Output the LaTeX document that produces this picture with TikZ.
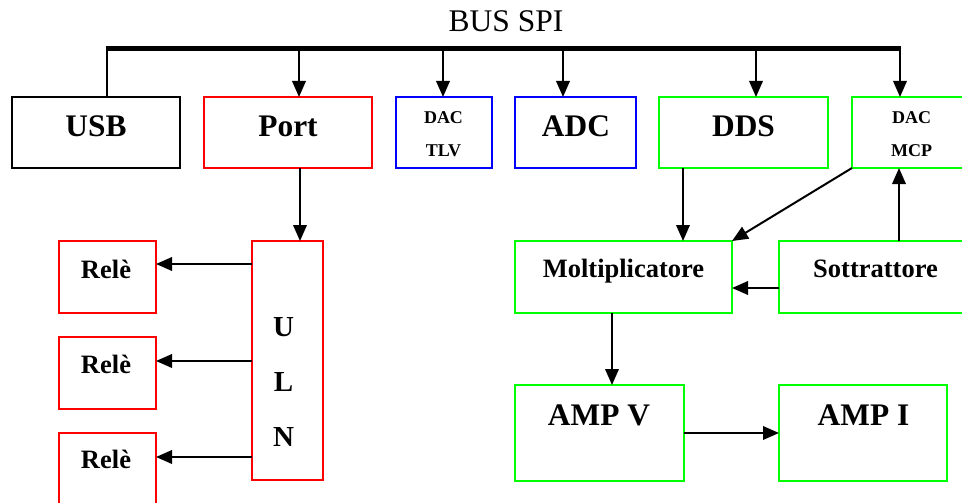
\documentclass[tikz,border=0pt]{standalone}
\usepackage{fontspec}
\setmainfont{Liberation Serif}
\usetikzlibrary{arrows.meta}
\definecolor{cred}{RGB}{255,0,0}
\definecolor{cblue}{RGB}{0,0,255}
\definecolor{cgreen}{RGB}{0,255,0}
\tikzset{
  box/.style={draw=#1, line width=2pt, rectangle, inner sep=0pt, outer sep=0pt},
  big/.style={font=\fontsize{31.4}{36}\selectfont\bfseries, anchor=base, inner sep=0pt},
  mid/.style={font=\fontsize{26.5}{30}\selectfont\bfseries, anchor=base, inner sep=0pt},
  uln/.style={font=\fontsize{29}{32}\selectfont\bfseries, anchor=base, inner sep=0pt},
  small/.style={font=\fontsize{18}{20}\selectfont\bfseries, anchor=base, inner sep=0pt},
  arr/.style={line width=2pt, -{Triangle[length=16pt,width=13.5pt]}},
  conn/.style={line width=2pt},
  bus/.style={line width=5pt}
}
\newcommand{\bx}[6]{% name, color, x1, y1, x2, y2
  \node[box=#2, minimum width={#5-#3}, minimum height={#6-#4}] (#1) at ({(#3+#5)/2},{(#4+#6)/2}) {};}
\begin{document}
\begin{tikzpicture}[x=1pt,y=-1pt]
\useasboundingbox (0,0) rectangle (962,503);
\clip (0,0) rectangle (962,503);
\fill[white] (0,0) rectangle (962,503);
% title
\node[font=\fontsize{31.5}{36}\selectfont, anchor=base, inner sep=0pt] (title) at (506,32) {BUS SPI};
% bus
\coordinate (busL) at (107,49);
\coordinate (busR) at (900,49);
\draw[bus] ([xshift=-1pt]busL) -- ([xshift=1pt]busR);
% top boxes
\bx{usb}{black}{12}{97}{180}{168}
\bx{port}{cred}{204}{97}{372}{168}
\bx{tlv}{cblue}{396}{97}{492}{168}
\bx{adc}{cblue}{515}{97}{636}{168}
\bx{dds}{cgreen}{659}{97}{828}{168}
\bx{mcp}{cgreen}{852}{97}{972}{168}
% lower boxes
\bx{rele1}{cred}{59}{241}{156}{313}
\bx{rele2}{cred}{59}{337}{156}{409}
\bx{rele3}{cred}{59}{433}{156}{506}
\bx{ulnbox}{cred}{252}{241}{323}{480}
\bx{molt}{cgreen}{515}{241}{732}{313}
\bx{sott}{cgreen}{779}{241}{974}{313}
\bx{ampv}{cgreen}{515}{385}{684}{481}
\bx{ampi}{cgreen}{779}{385}{947}{481}
% labels
\node[big] at (96,136) {USB};
\node[big] at (288,136) {Port};
\node[small] at (443.5,124) {DAC};
\node[small] at (443.5,156.5) {TLV};
\node[big] at (576,136.5) {ADC};
\node[big] at (743.5,136) {DDS};
\node[small] at (911.5,124) {DAC};
\node[small] at (911.5,156) {MCP};
\node[mid] at (106,278) {Relè};
\node[mid] at (106,373.5) {Relè};
\node[mid] at (106,468.5) {Relè};
\node[uln] at (283.5,336) {U};
\node[uln] at (283.5,391.5) {L};
\node[uln] at (283.5,446) {N};
\node[mid] at (623.5,277.5) {Moltiplicatore};
\node[mid] at (875.5,277.5) {Sottrattore};
\node[big] at (599,425.5) {AMP V};
\node[big] at (863.5,425.5) {AMP I};
% bus connections
\draw[conn] (busL) -- (usb.north -| busL);
\draw[arr] (busL -| 299,0) -- (port.north -| 299,0);
\draw[arr] (busL -| 443,0) -- (tlv.north -| 443,0);
\draw[arr] (busL -| 563,0) -- (adc.north -| 563,0);
\draw[arr] (busL -| 756,0) -- (dds.north -| 756,0);
\draw[arr] (busR) -- (mcp.north -| busR);
% port to ULN
\draw[arr] (port.south -| 300,0) -- (ulnbox.north -| 300,0);
% ULN to relays
\draw[arr] (ulnbox.west |- 0,264) -- (rele1.east |- 0,264);
\draw[arr] (ulnbox.west |- 0,361) -- (rele2.east |- 0,361);
\draw[arr] (ulnbox.west |- 0,457) -- (rele3.east |- 0,457);
% right side
\draw[arr] (dds.south -| 683,0) -- (molt.north -| 683,0);
\draw[arr] (mcp.south west) -- (molt.north east);
\draw[arr] (sott.north -| 899,0) -- (mcp.south -| 899,0);
\draw[arr] (sott.west |- 0,288) -- (molt.east |- 0,288);
\draw[arr] (molt.south -| 612,0) -- (ampv.north -| 612,0);
\draw[arr] (ampv.east |- 0,433) -- (ampi.west |- 0,433);
\end{tikzpicture}
\end{document}
